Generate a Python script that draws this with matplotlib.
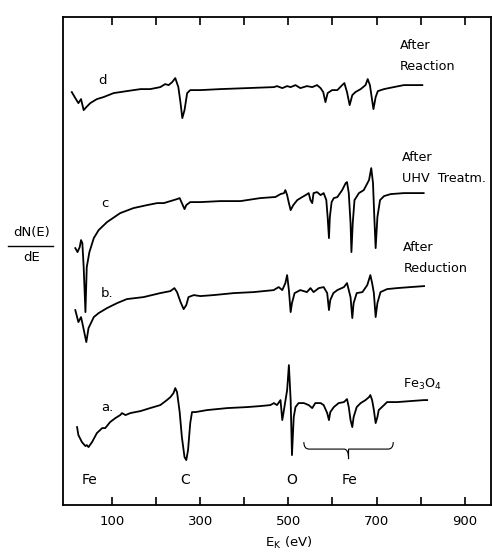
"""AES spectra of an iron oxide catalyst: Fe3O4, after reduction, after UHV
treatment and after reaction (dN(E)/dE, arbitrary units)."""

import matplotlib

matplotlib.use("Agg")
import matplotlib.pyplot as plt
from matplotlib.lines import Line2D
from matplotlib.path import Path
from matplotlib.patches import PathPatch

plt.rcParams.update({"font.family": "DejaVu Sans", "font.size": 9.5})

# kinetic energy (eV) and dN(E)/dE (arbitrary units, traces already offset)
a_ev = [20, 23, 31, 39, 42, 46, 54, 65, 77, 84, 95, 107, 118, 122, 130, 141, 164, 186,
        209, 224, 232, 239, 243, 247, 253, 258, 264, 268, 272, 277, 281, 289, 315, 361,
        406, 436, 459, 467, 474, 482, 486, 489, 497, 501, 505, 508, 512, 516, 523, 535,
        546, 554, 561, 573, 580, 588, 592, 595, 603, 614, 626, 633, 637, 641, 645, 648,
        655, 664, 675, 683, 686, 690, 694, 698, 702, 705, 717, 724, 747, 777, 808, 815]
a_sig = [78, 70, 63, 59, 60, 58, 63, 72, 77, 77, 83, 87, 90, 92, 90, 92, 94, 97,
         100, 105, 108, 112, 117, 113, 93, 68, 48, 45, 55, 82, 93, 93, 95, 97,
         98, 99, 100, 102, 100, 105, 85, 93, 115, 140, 105, 50, 88, 98, 102, 102,
         100, 97, 102, 102, 100, 92, 85, 93, 98, 102, 103, 106, 98, 85, 78, 88,
         98, 102, 105, 108, 110, 105, 95, 82, 88, 95, 100, 103, 103, 104, 105, 105]

b_ev = [16, 23, 29, 33, 41, 46, 58, 69, 88, 111, 133, 171, 209, 232, 241, 247, 255, 262,
        268, 273, 285, 300, 330, 376, 421, 467, 470, 478, 486, 493, 497, 501, 505, 508,
        514, 527, 542, 550, 557, 569, 580, 588, 592, 595, 602, 611, 626, 633, 641, 645,
        648, 655, 668, 679, 686, 690, 694, 698, 702, 709, 724, 747, 777, 808]
b_sig = [195, 183, 188, 180, 163, 177, 188, 192, 197, 202, 206, 208, 212, 214, 217, 213, 203, 196,
         200, 208, 210, 209, 210, 212, 213, 215, 216, 218, 215, 222, 230, 215, 193, 202,
         212, 215, 213, 217, 213, 217, 218, 212, 195, 205, 212, 215, 218, 222, 208, 187,
         202, 212, 213, 220, 230, 222, 212, 188, 202, 213, 216, 217, 218, 219]

c_ev = [16, 21, 26, 29, 32, 35, 39, 42, 48, 58, 69, 88, 118, 148, 179, 202, 217, 232,
        247, 253, 258, 264, 268, 277, 300, 345, 391, 436, 467, 470, 482, 490, 493, 497,
        501, 505, 511, 520, 531, 539, 546, 550, 554, 557, 565, 573, 580, 586, 589, 592,
        594, 598, 603, 611, 622, 630, 633, 637, 641, 643, 646, 650, 660, 671, 683, 688,
        692, 695, 698, 702, 708, 717, 732, 762, 792, 807]
c_sig = [257, 253, 258, 265, 262, 238, 193, 238, 253, 267, 275, 283, 292, 297, 300, 302, 302, 304,
         306, 307, 302, 296, 300, 303, 303, 304, 304, 307, 308, 308, 311, 312, 315, 310,
         302, 295, 300, 305, 308, 310, 312, 305, 302, 312, 313, 310, 312, 305, 288, 267,
         288, 303, 307, 308, 315, 322, 323, 312, 282, 253, 282, 305, 312, 315, 325, 337,
         322, 288, 257, 288, 305, 309, 311, 312, 312, 312]

d_ev = [8, 16, 23, 29, 35, 41, 50, 65, 80, 103, 133, 164, 186, 209, 220, 228, 236, 243,
        250, 255, 259, 264, 270, 277, 300, 345, 406, 467, 474, 486, 497, 505, 516, 527,
        542, 554, 565, 573, 579, 584, 589, 599, 611, 622, 627, 633, 639, 645, 652, 664,
        675, 680, 685, 690, 693, 698, 703, 717, 739, 762, 785, 804]
d_sig = [413, 407, 402, 406, 395, 398, 402, 406, 408, 412, 414, 416, 416, 418, 421, 420, 423, 427,
         418, 402, 387, 395, 412, 415, 415, 416, 417, 418, 419, 417, 419, 418, 420, 417,
         419, 418, 420, 417, 413, 403, 412, 415, 415, 420, 422, 413, 400, 410, 413, 416,
         420, 426, 420, 405, 396, 408, 414, 416, 418, 420, 420, 420]

# curve letter labels: (text, eV, signal)
curve_letters = [("a.", 89, 98), ("b.", 89, 212), ("c", 84, 302), ("d", 77, 425)]
# treatment labels at the right: (text, eV, signal)
treatments = [("Fe$_3$O$_4$", 761, 121), ("After\nReduction", 761, 247),
              ("After\nUHV  Treatm.", 757, 337), ("After\nReaction", 752, 449)]
# element markers along the bottom: (symbol, eV)
elements = [("Fe", 48), ("C", 266), ("O", 507), ("Fe", 639)]
fe_range = (535, 738)

tick_pos = [100, 200, 300, 400, 500, 600, 700, 800, 900]
tick_lab = ["100", "", "300", "", "500", "", "700", "", "900"]

fig = plt.figure(figsize=(4.92, 5.52), dpi=100)
ax = fig.add_axes([0.128, 0.085, 0.870, 0.884])

for ev, sig in [(a_ev, a_sig), (b_ev, b_sig), (c_ev, c_sig), (d_ev, d_sig)]:
    ax.plot(ev, sig, color="black", lw=1.3, solid_joinstyle="round")

for txt, x, y in curve_letters:
    ax.text(x, y, txt, ha="center", va="center", fontsize=9.5)
for txt, x, y in treatments:
    ax.text(x, y, txt, ha="left", va="center", fontsize=9.2, linespacing=1.75)
for txt, x in elements:
    ax.text(x, 25, txt, ha="center", va="center", fontsize=10)

# curly brace under the Fe transitions
x0, x1 = fe_range
xm = (x0 + x1) / 2
verts = [(x0, 63), (x0, 56), (x0 + 12, 56), (xm - 10, 56),
         (xm, 56), (xm, 46), (xm, 46), (xm, 46), (xm, 56),
         (xm + 10, 56), (x1 - 12, 56), (x1, 56), (x1, 63)]
codes = [Path.MOVETO, Path.CURVE3, Path.CURVE3, Path.LINETO,
         Path.CURVE3, Path.CURVE3, Path.MOVETO, Path.CURVE3, Path.CURVE3,
         Path.LINETO, Path.LINETO, Path.CURVE3, Path.CURVE3]
ax.add_patch(PathPatch(Path(verts, codes), fill=False, lw=0.8, color="black"))

ax.set_xlim(-12, 960)
ax.set_ylim(0, 488)
ax.set_xticks(tick_pos)
ax.set_xticklabels(tick_lab)
ax.set_yticks([])
ax.tick_params(axis="x", direction="in", length=6, width=1.2, top=True, pad=7,
               labelsize=9.5)
for sp in ax.spines.values():
    sp.set_linewidth(1.3)

ax.set_xlabel("E$_\\mathrm{K}$ (eV)", fontsize=9.5)
ax.xaxis.set_label_coords(0.528, -0.062)

# y label written as a fraction
fig.text(0.065, 0.578, "dN(E)", ha="center", va="center", fontsize=9.5)
fig.text(0.065, 0.533, "dE", ha="center", va="center", fontsize=9.5)
fig.add_artist(Line2D([0.017, 0.108], [0.555, 0.555], color="black", lw=1.0))

fig.savefig("out.png", dpi=100)
